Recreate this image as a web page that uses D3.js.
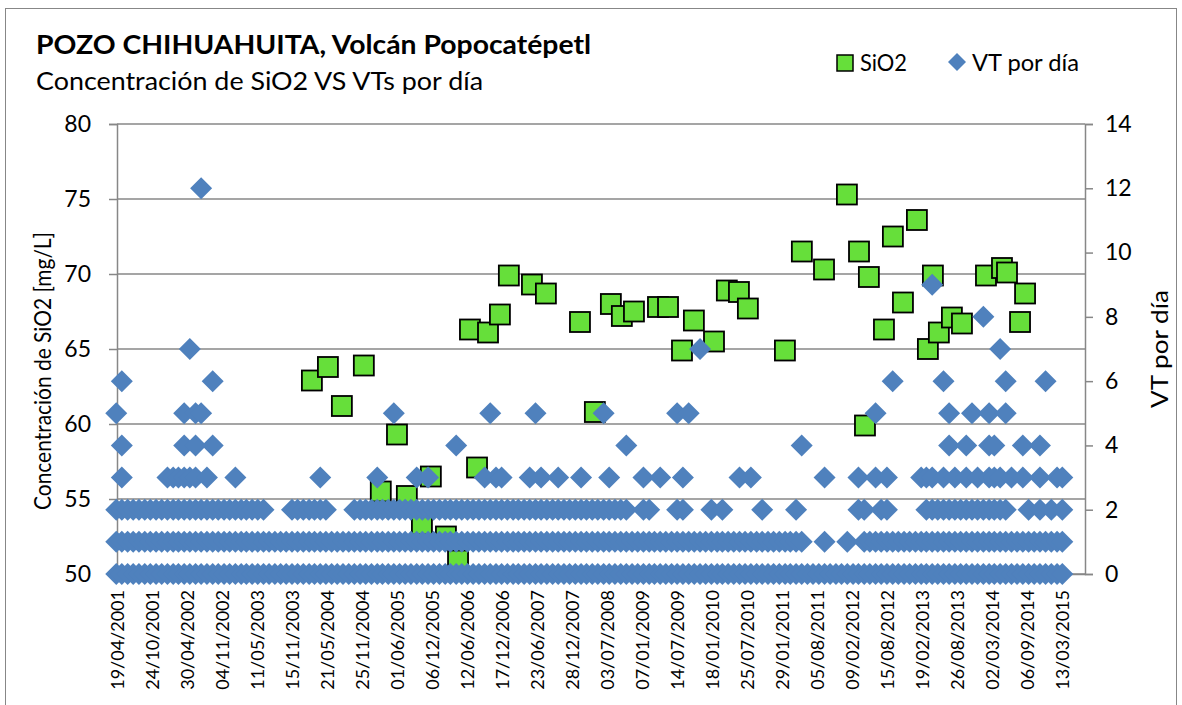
<!DOCTYPE html>
<html>
<head>
<meta charset="utf-8">
<script src="https://cdn.jsdelivr.net/npm/d3@7"></script>
<style>
    body { margin: 0; background: #fff; }
    svg { display: block; font-family: Lato, "Open Sans", sans-serif; }
</style>
</head>
<body>
<svg id="chart" width="1182" height="705"></svg>
<script>
// x axis: first/last dates and the tick labels (every 188 days, like Excel)
const xMin = "19/04/2001";
const xMax = "15/07/2015";
const tickLabels = ["19/04/2001","24/10/2001","30/04/2002","04/11/2002","11/05/2003","15/11/2003",
    "21/05/2004","25/11/2004","01/06/2005","06/12/2005","12/06/2006","17/12/2006","23/06/2007",
    "28/12/2007","03/07/2008","07/01/2009","14/07/2009","18/01/2010","25/07/2010","29/01/2011",
    "05/08/2011","09/02/2012","15/08/2012","19/02/2013","26/08/2013","02/03/2014","06/09/2014","13/03/2015"];
const leftTicks = [50, 55, 60, 65, 70, 75, 80];
const rightTicks = [0, 2, 4, 6, 8, 10, 12, 14];

// SiO2 samples
const sio2Dates = ["2004-03-01","2004-05-26","2004-08-09","2004-12-05","2005-03-06","2005-06-01",
    "2005-07-24","2005-10-13","2005-11-30","2006-02-19","2006-04-25","2006-06-28","2006-08-05",
    "2006-10-03","2006-12-06","2007-01-23","2007-05-27","2007-08-10","2008-02-09","2008-04-29",
    "2008-07-24","2008-09-21","2008-11-25","2009-04-03","2009-05-27","2009-08-10","2009-10-13",
    "2010-01-29","2010-04-08","2010-06-12","2010-07-30","2011-02-14","2011-05-16","2011-09-12",
    "2012-01-13","2012-03-18","2012-04-19","2012-05-10","2012-07-30","2012-09-16","2012-11-09",
    "2013-01-23","2013-03-23","2013-04-19","2013-05-21","2013-07-30","2013-09-22","2014-01-29",
    "2014-04-25","2014-05-22","2014-07-31","2014-08-27"];
const sio2Values = [62.9, 63.8, 61.2, 63.9, 55.5, 59.3,
    55.2, 53.3, 56.5, 52.5, 50.9, 66.3, 57.1,
    66.1, 67.3, 69.9, 69.3, 68.7, 66.8, 60.8,
    68.0, 67.2, 67.5, 67.8, 67.8, 64.9, 66.9,
    65.5, 68.9, 68.8, 67.7, 64.9, 71.5, 70.3,
    75.3, 71.5, 59.9, 69.8, 66.3, 72.5, 68.1,
    73.6, 65.0, 69.9, 66.1, 67.1, 66.7, 69.9,
    70.4, 70.1, 66.8, 68.7];

// VT por dia: months in which each daily count shows up
const vt0 = [
    "2001-04","2001-05","2001-06","2001-07","2001-08","2001-09","2001-10","2001-11","2001-12",
    "2002-01","2002-02","2002-03","2002-04","2002-05","2002-06","2002-07","2002-08","2002-09","2002-10","2002-11","2002-12",
    "2003-01","2003-02","2003-03","2003-04","2003-05","2003-06","2003-07","2003-08","2003-09","2003-10","2003-11","2003-12",
    "2004-01","2004-02","2004-03","2004-04","2004-05","2004-06","2004-07","2004-08","2004-09","2004-10","2004-11","2004-12",
    "2005-01","2005-02","2005-03","2005-04","2005-05","2005-06","2005-07","2005-08","2005-09","2005-10","2005-11","2005-12",
    "2006-01","2006-02","2006-03","2006-04","2006-05","2006-06","2006-07","2006-08","2006-09","2006-10","2006-11","2006-12",
    "2007-01","2007-02","2007-03","2007-04","2007-05","2007-06","2007-07","2007-08","2007-09","2007-10","2007-11","2007-12",
    "2008-01","2008-02","2008-03","2008-04","2008-05","2008-06","2008-07","2008-08","2008-09","2008-10","2008-11","2008-12",
    "2009-01","2009-02","2009-03","2009-04","2009-05","2009-06","2009-07","2009-08","2009-09","2009-10","2009-11","2009-12",
    "2010-01","2010-02","2010-03","2010-04","2010-05","2010-06","2010-07","2010-08","2010-09","2010-10","2010-11","2010-12",
    "2011-01","2011-02","2011-03","2011-04","2011-05","2011-06","2011-07","2011-08","2011-09","2011-10","2011-11","2011-12",
    "2012-01","2012-02","2012-03","2012-04","2012-05","2012-06","2012-07","2012-08","2012-09","2012-10","2012-11","2012-12",
    "2013-01","2013-02","2013-03","2013-04","2013-05","2013-06","2013-07","2013-08","2013-09","2013-10","2013-11","2013-12",
    "2014-01","2014-02","2014-03","2014-04","2014-05","2014-06","2014-07","2014-08","2014-09","2014-10","2014-11","2014-12",
    "2015-01","2015-02","2015-03"];
const vt1 = [
    "2001-04","2001-05","2001-06","2001-07","2001-08","2001-09","2001-10","2001-11","2001-12",
    "2002-01","2002-02","2002-03","2002-04","2002-05","2002-06","2002-07","2002-08","2002-09","2002-10","2002-11","2002-12",
    "2003-01","2003-02","2003-03","2003-04","2003-05","2003-06","2003-07","2003-08","2003-09","2003-10","2003-11","2003-12",
    "2004-01","2004-02","2004-03","2004-04","2004-05","2004-06","2004-07","2004-08","2004-09","2004-10","2004-11","2004-12",
    "2005-01","2005-02","2005-03","2005-04","2005-05","2005-06","2005-07","2005-08","2005-09","2005-10","2005-11","2005-12",
    "2006-01","2006-02","2006-03","2006-04","2006-05","2006-06","2006-07","2006-08","2006-09","2006-10","2006-11","2006-12",
    "2007-01","2007-02","2007-03","2007-04","2007-05","2007-06","2007-07","2007-08","2007-09","2007-10","2007-11","2007-12",
    "2008-01","2008-02","2008-03","2008-04","2008-05","2008-06","2008-07","2008-08","2008-09","2008-10","2008-11","2008-12",
    "2009-01","2009-02","2009-03","2009-04","2009-05","2009-06","2009-07","2009-08","2009-09","2009-10","2009-11","2009-12",
    "2010-01","2010-02","2010-03","2010-04","2010-05","2010-06","2010-07","2010-08","2010-09","2010-10","2010-11","2010-12",
    "2011-01","2011-02","2011-03","2011-04","2011-05","2011-09",
    "2012-01","2012-04","2012-05","2012-06","2012-07","2012-08","2012-09","2012-10","2012-11","2012-12",
    "2013-01","2013-02","2013-03","2013-04","2013-05","2013-06","2013-07","2013-08","2013-09","2013-10","2013-11","2013-12",
    "2014-01","2014-02","2014-03","2014-04","2014-05","2014-06","2014-07","2014-08","2014-09","2014-10","2014-11","2014-12",
    "2015-01","2015-02","2015-03"];
const vt2 = [
    "2001-04","2001-05","2001-06","2001-07","2001-08","2001-09","2001-10","2001-11","2001-12",
    "2002-01","2002-02","2002-03","2002-04","2002-05","2002-06","2002-07","2002-08","2002-09","2002-10","2002-11","2002-12",
    "2003-01","2003-02","2003-03","2003-04","2003-05","2003-06","2003-11","2003-12",
    "2004-01","2004-02","2004-03","2004-04","2004-05","2004-10","2004-11","2004-12",
    "2005-01","2005-02","2005-03","2005-04","2005-05","2005-06","2005-07","2005-08","2005-09","2005-10","2005-11","2005-12",
    "2006-01","2006-02","2006-03","2006-04","2006-05","2006-06","2006-07","2006-08","2006-09","2006-10","2006-11","2006-12",
    "2007-01","2007-02","2007-03","2007-04","2007-05","2007-06","2007-07","2007-08","2007-09","2007-10","2007-11","2007-12",
    "2008-01","2008-02","2008-03","2008-04","2008-05","2008-06","2008-07","2008-08","2008-09","2008-10",
    "2009-01","2009-02","2009-07","2009-08","2010-01","2010-03","2010-10","2011-04",
    "2012-03","2012-04","2012-07","2012-08",
    "2013-03","2013-04","2013-05","2013-06","2013-07","2013-08","2013-09","2013-10","2013-11","2013-12",
    "2014-01","2014-02","2014-03","2014-04","2014-05","2014-09","2014-11","2015-01","2015-03"];
const vt3 = ["2001-05","2002-01","2002-02","2002-03","2002-04","2002-05","2002-06","2002-08","2003-01",
    "2004-04","2005-02","2005-09","2005-11","2006-09","2006-11","2006-12","2007-05","2007-07","2007-10",
    "2008-02","2008-07","2009-01","2009-04","2009-08","2010-06","2010-08","2011-09","2012-03","2012-06",
    "2012-08","2013-02","2013-03","2013-04","2013-06","2013-08","2013-10","2013-12","2014-02","2014-03",
    "2014-04","2014-06","2014-08","2014-11","2015-02","2015-03"];
const vt4 = ["2001-05","2002-04","2002-06","2002-09","2006-04","2008-10","2011-05","2013-07","2013-10",
    "2014-02","2014-03","2014-08","2014-11"];
const vt5 = ["2001-04","2002-04","2002-06","2002-07","2005-05","2006-10","2007-06","2008-06","2009-07",
    "2009-09","2012-06","2013-07","2013-11","2014-02","2014-05"];
const vt6 = ["2001-05","2002-09","2012-09","2013-06","2014-05","2014-12"];
const vt7 = ["2002-05","2009-11","2014-04"];
const vt8 = ["2014-01"];
const vt9 = ["2013-04"];
const vt12 = ["2002-07"];
const vtLevels = [[0, vt0], [1, vt1], [2, vt2], [3, vt3], [4, vt4], [5, vt5],
    [6, vt6], [7, vt7], [8, vt8], [9, vt9], [12, vt12]];

const parseTick = d3.utcParse("%d/%m/%Y");
const parseDay = d3.utcParse("%Y-%m-%d");
// monthly entries are placed mid-month
function parseMonth(s) { return parseDay(s + "-15"); }

const green = "#66df3a", blue = "#4f81bd", grid = "#878787";
const plot = {left: 117, right: 1085, top: 124, bottom: 574};

const svg = d3.select("#chart");

// chart area border
svg.append("rect")
    .attr("x", 5.5).attr("y", 8.5)
    .attr("width", 1171).attr("height", 720)
    .attr("fill", "none").attr("stroke", "#878787").attr("stroke-width", 1);

const x = d3.scaleUtc()
    .domain([parseTick(xMin), parseTick(xMax)])
    .range([plot.left, plot.right]);
const yL = d3.scaleLinear().domain([50, 80]).range([plot.bottom, plot.top]);
const yR = d3.scaleLinear().domain([0, 14]).range([plot.bottom, plot.top]);

// gridlines
svg.append("g").selectAll("line")
    .data(leftTicks)
    .join("line")
        .attr("x1", plot.left).attr("x2", plot.right)
        .attr("y1", d => yL(d)).attr("y2", d => yL(d))
        .attr("stroke", grid).attr("stroke-width", 1.5);

// left axis
const gLeft = svg.append("g")
    .attr("transform", "translate(" + plot.left + ",0)")
    .call(d3.axisLeft(yL).tickValues(leftTicks).tickSize(8).tickPadding(18));
gLeft.selectAll("path, line").attr("stroke", grid).attr("stroke-width", 1.5);
gLeft.selectAll("text").attr("font-size", 23).attr("fill", "#000").attr("font-family", "Lato");

// right axis
const gRight = svg.append("g")
    .attr("transform", "translate(" + plot.right + ",0)")
    .call(d3.axisRight(yR).tickValues(rightTicks).tickSize(8).tickPadding(12));
gRight.selectAll("path, line").attr("stroke", grid).attr("stroke-width", 1.5);
gRight.selectAll("text").attr("font-size", 23).attr("fill", "#000").attr("font-family", "Lato");

// bottom axis labels (rotated)
const gBottom = svg.append("g")
    .attr("transform", "translate(0," + plot.bottom + ")")
    .call(d3.axisBottom(x)
        .tickValues(tickLabels.map(parseTick))
        .tickFormat(d3.utcFormat("%d/%m/%Y"))
        .tickSize(0));
gBottom.select(".domain").attr("stroke", grid).attr("stroke-width", 1.5);
gBottom.selectAll("text")
    .attr("transform", "rotate(-90)")
    .attr("x", -16).attr("y", 0).attr("dy", "0.35em")
    .style("text-anchor", "end")
    .attr("font-size", 18).attr("fill", "#000").attr("font-family", "Lato");

// SiO2 squares
const sq = 20;
svg.append("g").selectAll("rect")
    .data(sio2Dates.map((d, i) => ({date: parseDay(d), value: sio2Values[i]})))
    .join("rect")
        .attr("x", d => x(d.date) - sq / 2)
        .attr("y", d => yL(d.value) - sq / 2)
        .attr("width", sq).attr("height", sq)
        .attr("fill", green).attr("stroke", "#000").attr("stroke-width", 1.8);

// VT diamonds (secondary axis, drawn on top)
const r = 11;
const diamond = "M0," + (-r) + "L" + r + ",0L0," + r + "L" + (-r) + ",0Z";
const vtPoints = vtLevels.flatMap(([v, dates]) => dates.map(d => ({date: parseMonth(d), value: v})));
svg.append("g").selectAll("path")
    .data(vtPoints)
    .join("path")
        .attr("d", diamond)
        .attr("transform", d => "translate(" + x(d.date) + "," + yR(d.value) + ")")
        .attr("fill", blue);

// titles (textLength pins the widths of the original Calibri text)
svg.append("text")
    .attr("x", 36).attr("y", 54)
    .attr("font-size", 26).attr("font-weight", "bold")
    .attr("textLength", 555).attr("lengthAdjust", "spacingAndGlyphs")
    .text("POZO CHIHUAHUITA, Volcán Popocatépetl");
svg.append("text")
    .attr("x", 36).attr("y", 90)
    .attr("font-size", 25)
    .attr("textLength", 447).attr("lengthAdjust", "spacingAndGlyphs")
    .text("Concentración de SiO2 VS VTs por día");

// axis titles
svg.append("text")
    .attr("transform", "translate(51,371) rotate(-90)")
    .attr("text-anchor", "middle")
    .attr("font-size", 23)
    .attr("textLength", 278).attr("lengthAdjust", "spacingAndGlyphs")
    .text("Concentración de SiO2 [mg/L]");
svg.append("text")
    .attr("transform", "translate(1168,349) rotate(-90)")
    .attr("text-anchor", "middle")
    .attr("font-size", 23)
    .attr("textLength", 118).attr("lengthAdjust", "spacingAndGlyphs")
    .text("VT por día");

// legend
const legend = svg.append("g");
legend.append("rect")
    .attr("x", 837).attr("y", 55).attr("width", 16).attr("height", 16)
    .attr("fill", green).attr("stroke", "#000").attr("stroke-width", 1.5);
legend.append("text")
    .attr("x", 860).attr("y", 71).attr("font-size", 23)
    .attr("textLength", 47).attr("lengthAdjust", "spacingAndGlyphs")
    .text("SiO2");
legend.append("path")
    .attr("d", "M0,-9L9,0L0,9L-9,0Z")
    .attr("transform", "translate(957,62)")
    .attr("fill", blue);
legend.append("text")
    .attr("x", 972).attr("y", 71).attr("font-size", 23)
    .attr("textLength", 107).attr("lengthAdjust", "spacingAndGlyphs")
    .text("VT por día");
</script>
</body>
</html>
